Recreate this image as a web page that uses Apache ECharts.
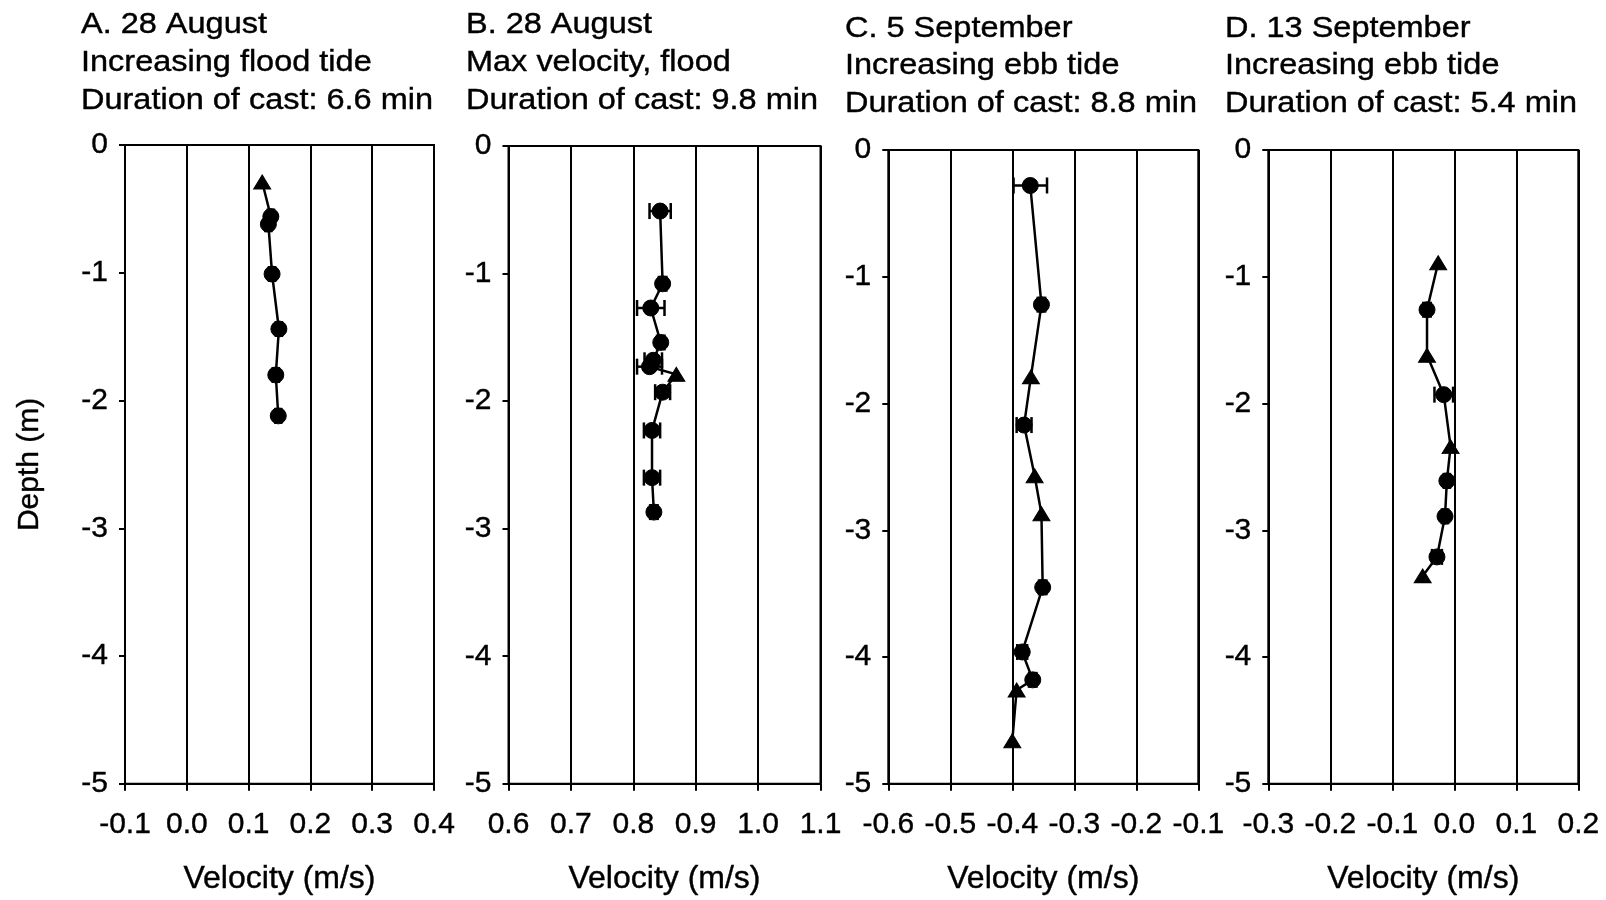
<!DOCTYPE html>
<html>
<head>
<meta charset="utf-8">
<script src="https://cdn.jsdelivr.net/npm/echarts@6/dist/echarts.min.js"></script>
<style>
html,body{margin:0;padding:0;background:#fff;}
#chart{width:1606px;height:900px;}
</style>
</head>
<body>
<div id="chart"></div>
<script>
// ---- Data ----
const titleLines = [
  ["A. 28 August", "Increasing flood tide", "Duration of cast: 6.6 min"],
  ["B. 28 August", "Max velocity, flood", "Duration of cast: 9.8 min"],
  ["C. 5 September", "Increasing ebb tide", "Duration of cast: 8.8 min"],
  ["D. 13 September", "Increasing ebb tide", "Duration of cast: 5.4 min"]
];
const xMins = [-0.1, 0.6, -0.6, -0.3];
const xMaxs = [0.4, 1.1, -0.1, 0.2];
const yMin = -5, yMax = 0;

// Panel A
const velA   = [0.122, 0.136, 0.132, 0.138, 0.149, 0.144, 0.148];
const depthA = [-0.29, -0.56, -0.62, -1.01, -1.44, -1.80, -2.12];
const symA   = ['t','c','c','c','c','c','c'];
const errA   = [0, 0.005, 0.005, 0.005, 0.005, 0.005, 0.005];

// Panel B
const velB   = [0.843, 0.847, 0.828, 0.844, 0.832, 0.826, 0.869, 0.847, 0.830, 0.830, 0.833];
const depthB = [-0.51, -1.08, -1.27, -1.54, -1.68, -1.73, -1.79, -1.93, -2.23, -2.60, -2.87];
const symB   = ['c','c','c','c','c','c','t','c','c','c','c'];
const errB   = [0.017, 0.006, 0.022, 0.006, 0.014, 0.020, 0, 0.012, 0.013, 0.013, 0.006];

// Panel C
const velC   = [-0.371, -0.353, -0.370, -0.381, -0.364, -0.353, -0.351, -0.384, -0.367, -0.393, -0.400];
const depthC = [-0.28, -1.22, -1.79, -2.17, -2.57, -2.87, -3.45, -3.96, -4.18, -4.26, -4.66];
const symC   = ['c','c','t','c','t','t','c','c','c','t','t'];
const errC   = [0.027, 0.006, 0, 0.012, 0, 0, 0.006, 0.008, 0.006, 0, 0];

// Panel D
const velD   = [-0.026, -0.044, -0.044, -0.017, -0.006, -0.012, -0.015, -0.028, -0.051];
const depthD = [-0.89, -1.26, -1.62, -1.93, -2.34, -2.61, -2.89, -3.21, -3.36];
const symD   = ['t','c','t','c','t','c','c','c','t'];
const errD   = [0, 0.006, 0, 0.015, 0, 0.005, 0.005, 0.008, 0];

const panels = [
  {vel: velA, depth: depthA, sym: symA, err: errA},
  {vel: velB, depth: depthB, sym: symB, err: errB},
  {vel: velC, depth: depthC, sym: symC, err: errC},
  {vel: velD, depth: depthD, sym: symD, err: errD}
];

// ---- Layout ----
const gridPos = [
  {left: 125,   top: 145, width: 309, height: 641},
  {left: 508.5, top: 146, width: 312, height: 639},
  {left: 888.3, top: 150, width: 310, height: 638},
  {left: 1268.3,top: 150, width: 310, height: 638}
];
const titleX = [81, 466, 845, 1225];
const titleY = [[25, 63, 101], [25, 63, 101], [29, 66, 104], [29, 66, 104]];
const FONT = '"Liberation Sans", Arial, sans-serif';

const chart = echarts.init(document.getElementById('chart'), null, {renderer: 'canvas'});

const graphics = [];
titleLines.forEach((lines, i) => {
  lines.forEach((t, k) => {
    graphics.push({
      type: 'text', x: titleX[i], y: titleY[i][k], scaleX: 1.12,
      style: {text: t, fontFamily: FONT, fontSize: 29, fill: '#000',
        stroke: '#000', lineWidth: 0.4,
        align: 'left', verticalAlign: 'middle'}
    });
  });
});

const option = {
  backgroundColor: '#fff',
  animation: false,
  graphic: graphics,
  grid: gridPos.map(g => ({
    left: g.left, top: g.top, width: g.width, height: g.height,
    show: true, borderColor: '#000', borderWidth: 2, backgroundColor: 'transparent',
    containLabel: false
  })),
  xAxis: panels.map((p, i) => ({
    type: 'value', gridIndex: i,
    min: xMins[i], max: xMaxs[i], interval: 0.1,
    name: 'Velocity (m/s)', nameLocation: 'middle', nameGap: 79,
    nameTextStyle: {fontFamily: FONT, fontSize: 32, color: '#000', textBorderColor: '#000', textBorderWidth: 0.4},
    axisLine: {show: true, onZero: false, lineStyle: {color: '#000', width: 2}},
    axisTick: {show: true, inside: false, length: 7, lineStyle: {color: '#000', width: 2}},
    axisLabel: {fontFamily: FONT, fontSize: 30, color: '#000', margin: 26,
      textBorderColor: '#000', textBorderWidth: 0.4,
      formatter: v => (Math.abs(v) < 1e-9 ? 0 : v).toFixed(1)},
    splitLine: {show: true, lineStyle: {color: '#000', width: 2}}
  })),
  yAxis: panels.map((p, i) => ({
    type: 'value', gridIndex: i,
    min: yMin, max: yMax, interval: 1,
    name: i === 0 ? 'Depth (m)' : '', nameLocation: 'middle', nameGap: 80,
    nameTextStyle: {fontFamily: FONT, fontSize: 30, color: '#000', textBorderColor: '#000', textBorderWidth: 0.4},
    axisLine: {show: true, onZero: false, lineStyle: {color: '#000', width: 2}},
    axisTick: {show: true, inside: false, length: 6, lineStyle: {color: '#000', width: 2}},
    axisLabel: {fontFamily: FONT, fontSize: 30, color: '#000', margin: 17,
      textBorderColor: '#000', textBorderWidth: 0.4},
    splitLine: {show: false}
  })),
  series: []
};

panels.forEach((p, i) => {
  // error bars
  const errData = p.vel.map((v, k) => [v, p.depth[k], p.err[k]]).filter(d => d[2] > 0);
  option.series.push({
    type: 'custom', xAxisIndex: i, yAxisIndex: i, z: 3,
    data: errData,
    renderItem: function (params, api) {
      const v = api.value(0), d = api.value(1), e = api.value(2);
      const a = api.coord([v - e, d]);
      const b = api.coord([v + e, d]);
      const h = 8;
      const style = {stroke: '#000', lineWidth: 2.5};
      return {
        type: 'group',
        children: [
          {type: 'line', shape: {x1: a[0], y1: a[1], x2: b[0], y2: b[1]}, style: style},
          {type: 'line', shape: {x1: a[0], y1: a[1] - h, x2: a[0], y2: a[1] + h}, style: style},
          {type: 'line', shape: {x1: b[0], y1: b[1] - h, x2: b[0], y2: b[1] + h}, style: style}
        ]
      };
    }
  });
  // profile line with markers
  option.series.push({
    type: 'line', xAxisIndex: i, yAxisIndex: i, z: 4,
    lineStyle: {color: '#000', width: 2.5},
    itemStyle: {color: '#000', borderColor: '#000'},
    showAllSymbol: true,
    data: p.vel.map((v, k) => ({
      value: [v, p.depth[k]],
      symbol: p.sym[k] === 't' ? 'triangle' : 'circle',
      symbolSize: p.sym[k] === 't' ? [17, 14] : 16
    }))
  });
});

chart.setOption(option);
</script>
</body>
</html>
